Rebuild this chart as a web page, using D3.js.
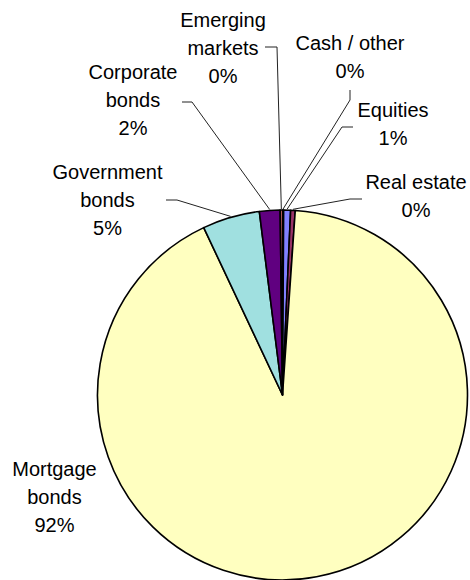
<!DOCTYPE html>
<html>
<head>
<meta charset="utf-8">
<script src="https://cdn.jsdelivr.net/npm/d3@7"></script>
<style>
  html, body { margin: 0; padding: 0; background: #fff; }
  svg { display: block; }
  text { font-family: "Liberation Sans", Arial, sans-serif; font-size: 20px; fill: #000; }
</style>
</head>
<body>
<svg id="chart" width="470" height="580"></svg>
<script>
// ---- data ----
const categories = ["Cash / other", "Equities", "Real estate", "Mortgage bonds", "Government bonds", "Corporate bonds", "Emerging markets"];
const values = [0.1, 0.6, 0.4, 91.9, 5.0, 1.8, 0.2];
const labelLines = [["Cash / other"], ["Equities"], ["Real estate"], ["Mortgage", "bonds"], ["Government", "bonds"], ["Corporate", "bonds"], ["Emerging", "markets"]];

// ---- styles / layout ----
const sliceColors = ["#0066cc", "#8080ff", "#993366", "#ffffc0", "#a0e0e0", "#600080", "#ff8080"];
const layout = {
  cx: 282.5, cy: 395, r: 185, lineH: 28,
  labels: [
    { x: 350, y: 50, elbow: [[350, 90], [350, 100]] },
    { x: 393, y: 117, elbow: [[353, 127], [342, 127]] },
    { x: 416, y: 189, elbow: [[362, 199], [350, 199]] },
    { x: 54.5, y: 476, elbow: null },
    { x: 107.5, y: 179, elbow: [[166, 200], [177, 200]] },
    { x: 133, y: 79, elbow: [[182, 102], [192, 102]] },
    { x: 223, y: 27, elbow: [[265, 47], [277, 47]] }
  ]
};

const svg = d3.select("#chart");
const data = categories.map((c, i) => ({ name: c, value: values[i], i }));

const pie = d3.pie().sort(null).value(d => d.value).startAngle(0).endAngle(2 * Math.PI);
const arcs = pie(data);
const arcGen = d3.arc().innerRadius(0).outerRadius(layout.r);

const g = svg.append("g").attr("transform", `translate(${layout.cx},${layout.cy})`);

g.selectAll("path.slice")
  .data(arcs)
  .join("path")
  .attr("class", "slice")
  .attr("d", arcGen)
  .attr("fill", d => sliceColors[d.data.i])
  .attr("stroke", "#000")
  .attr("stroke-width", 1.6)
  .attr("stroke-linejoin", "round");

// leader lines
const line = d3.line();
arcs.forEach(a => {
  const L = layout.labels[a.data.i];
  if (!L.elbow) return;
  const mid = (a.startAngle + a.endAngle) / 2;
  const px = layout.cx + Math.sin(mid) * (layout.r + 1);
  const py = layout.cy - Math.cos(mid) * (layout.r + 1);
  svg.append("path")
    .attr("d", line([...L.elbow, [px, py]]))
    .attr("fill", "none")
    .attr("stroke", "#222")
    .attr("stroke-width", 1);
});

// labels
arcs.forEach(a => {
  const L = layout.labels[a.data.i];
  const lines = [...labelLines[a.data.i], Math.round(a.data.value) + "%"];
  const t = svg.append("text")
    .attr("text-anchor", "middle")
    .attr("x", L.x)
    .attr("y", L.y);
  lines.forEach((s, k) => {
    t.append("tspan").attr("x", L.x).attr("y", L.y + k * layout.lineH).text(s);
  });
});
</script>
</body>
</html>
